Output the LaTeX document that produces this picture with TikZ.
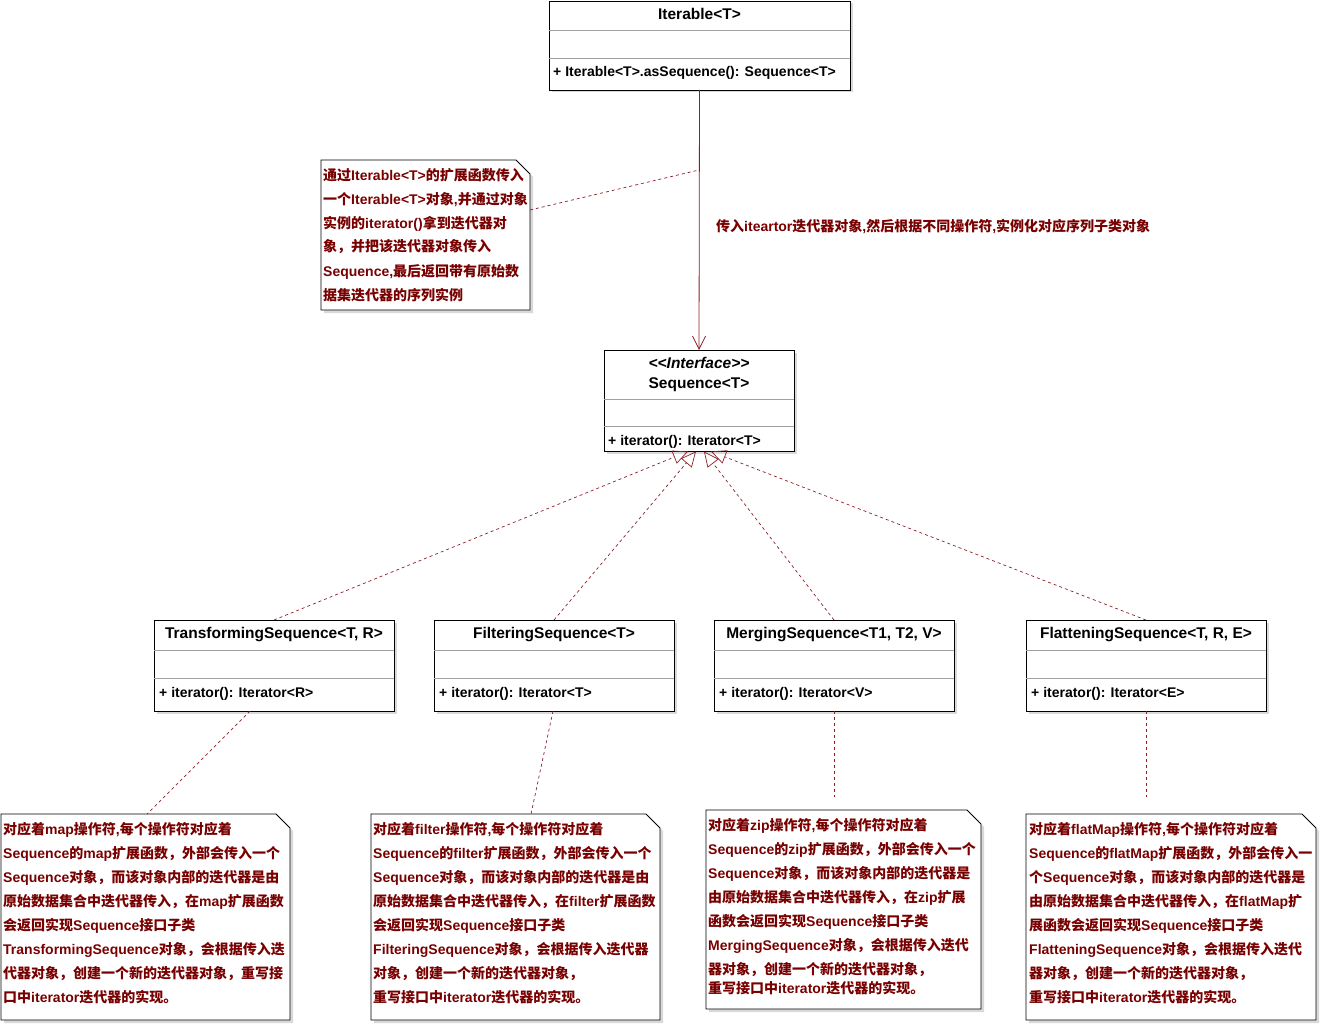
\documentclass[tikz,border=0pt]{standalone}
\usepackage{fontspec}
\setmainfont{Liberation Sans}
\newfontfamily\cjk{Noto Sans CJK SC}
\usetikzlibrary{arrows.meta,shadows}
\definecolor{txtc}{RGB}{120,0,0}
\definecolor{linec}{RGB}{140,30,40}
\definecolor{sepc}{RGB}{160,160,160}
\newcommand\lat[1]{{\rmfamily\bfseries #1}}
\newcommand\notebox[4]{%
  \fill[black,opacity=0.15] (#1+3,#2+3) -- (#3-14+3,#2+3) -- (#3+3,#2+14+3) -- (#3+3,#4+3) -- (#1+3,#4+3) -- cycle;
  \draw[noteb] (#1,#2) -- (#3-14,#2) -- (#3,#2+14) -- (#3,#4) -- (#1,#4) -- cycle;}
\begin{document}
\begin{tikzpicture}[x=1pt,y=-1pt,
  cls/.style={draw=black, line width=0.9pt, fill=white, anchor=north west, inner sep=0pt, outer sep=0pt,
    drop shadow={shadow xshift=2.5pt, shadow yshift=-2.5pt, opacity=0.3}},
  ttl/.style={anchor=base, inner sep=0pt, font=\fontsize{15.5}{18}\selectfont\bfseries},
  mth/.style={anchor=base west, inner sep=0pt, font=\fontsize{14}{16}\selectfont\bfseries},
  sepl/.style={draw=sepc, line width=0.6pt},
  assoc/.style={draw=linec, line width=0.8pt, -{Straight Barb[length=13pt,width=13pt]}},
  real/.style={draw=linec, line width=0.7pt, dash pattern=on 3pt off 3pt, -{Triangle[open,length=15pt,width=14pt]}},
  anchorline/.style={draw=linec, line width=0.7pt, dash pattern=on 3pt off 3pt},
  noteb/.style={draw=black, line width=0.9pt, fill=white},
  notetxt/.style={anchor=base west, inner sep=0pt, align=left, text=txtc, font=\cjk\bfseries\fontsize{14}{24}\selectfont}]
\useasboundingbox (0,0) rectangle (1323,1027);

% ---------- Iterable<T>
\node[cls, minimum width=301pt, minimum height=89pt] (iter) at (549,1) {};
\draw[sepl] (549,30) -- (850,30);
\draw[sepl] (549,58) -- (850,58);
\node[ttl] (iterT) at (699.5,19.5) {Iterable<T>};
\node[mth] (iterM) at (553,77) {+ Iterable<T>.asSequence(): Sequence<T>};

% ---------- Sequence<T>
\node[cls, minimum width=190pt, minimum height=101pt] (seq) at (604,350) {};
\draw[sepl] (604,399) -- (794,399);
\draw[sepl] (604,426) -- (794,426);
\node[ttl, font=\fontsize{15.5}{18}\selectfont\bfseries\itshape] (seqS) at (699,368.5) {<{}<Interface>{}>};
\node[ttl] (seqT) at (699,388.5) {Sequence<T>};
\node[mth] (seqM) at (608,445) {+ iterator(): Iterator<T>};

% ---------- subclasses
\node[cls, minimum width=240pt, minimum height=91pt] (trans) at (154,620) {};
\node[cls, minimum width=240pt, minimum height=91pt] (filt) at (434,620) {};
\node[cls, minimum width=240pt, minimum height=91pt] (merg) at (714,620) {};
\node[cls, minimum width=240pt, minimum height=91pt] (flat) at (1026,620) {};
\foreach \a/\b in {154/394,434/674,714/954,1026/1266}{
  \draw[sepl] (\a,650) -- (\b,650);
  \draw[sepl] (\a,678) -- (\b,678);
}
\node[ttl] (transT) at (274,638.5) {TransformingSequence<T, R>};
\node[ttl] (filtT) at (554,638.5) {FilteringSequence<T>};
\node[ttl] (mergT) at (834,638.5) {MergingSequence<T1, T2, V>};
\node[ttl] (flatT) at (1146,638.5) {FlatteningSequence<T, R, E>};
\node[mth] (transM) at (159,697) {+ iterator(): Iterator<R>};
\node[mth] (filtM) at (439,697) {+ iterator(): Iterator<T>};
\node[mth] (mergM) at (719,697) {+ iterator(): Iterator<V>};
\node[mth] (flatM) at (1031,697) {+ iterator(): Iterator<E>};

% ---------- notes (node base = baseline of last line)
\notebox{321}{160}{530}{310}
\node[notetxt] (nAt) at (323,300) {通过\lat{Iterable<T>}的扩展函数传入\\
一个\lat{Iterable<T>}对象\lat{,}并通过对象\\
实例的\lat{iterator()}拿到迭代器对\\
象，并把该迭代器对象传入\\
\lat{Sequence,}最后返回带有原始数\\
据集迭代器的序列实例};

\notebox{1}{814}{290}{1020}
\node[notetxt] (n1t) at (3,1002) {对应着\lat{map}操作符\lat{,}每个操作符对应着\\
\lat{Sequence}的\lat{map}扩展函数，外部会传入一个\\
\lat{Sequence}对象，而该对象内部的迭代器是由\\
原始数据集合中迭代器传入，在\lat{map}扩展函数\\
会返回实现\lat{Sequence}接口子类\\
\lat{TransformingSequence}对象，会根据传入迭\\
代器对象，创建一个新的迭代器对象，重写接\\
口中\lat{iterator}迭代器的实现。};

\notebox{371}{814}{660}{1020}
\node[notetxt] (n2t) at (373,1002) {对应着\lat{filter}操作符\lat{,}每个操作符对应着\\
\lat{Sequence}的\lat{filter}扩展函数，外部会传入一个\\
\lat{Sequence}对象，而该对象内部的迭代器是由\\
原始数据集合中迭代器传入，在\lat{filter}扩展函数\\
会返回实现\lat{Sequence}接口子类\\
\lat{FilteringSequence}对象，会根据传入迭代器\\
对象，创建一个新的迭代器对象，\\
重写接口中\lat{iterator}迭代器的实现。};

\notebox{706}{810}{981}{1009}
\node[notetxt] (n3t) at (708,993) {对应着\lat{zip}操作符\lat{,}每个操作符对应着\\
\lat{Sequence}的\lat{zip}扩展函数，外部会传入一个\\
\lat{Sequence}对象，而该对象内部的迭代器是\\
由原始数据集合中迭代器传入，在\lat{zip}扩展\\
函数会返回实现\lat{Sequence}接口子类\\
\lat{MergingSequence}对象，会根据传入迭代\\
器对象，创建一个新的迭代器对象，\\[-5pt]
重写接口中\lat{iterator}迭代器的实现。};

\notebox{1026}{814}{1316}{1020}
\node[notetxt] (n4t) at (1029,1002) {对应着\lat{flatMap}操作符\lat{,}每个操作符对应着\\
\lat{Sequence}的\lat{flatMap}扩展函数，外部会传入一\\
个\lat{Sequence}对象，而该对象内部的迭代器是\\
由原始数据集合中迭代器传入，在\lat{flatMap}扩\\
展函数会返回实现\lat{Sequence}接口子类\\
\lat{FlatteningSequence}对象，会根据传入迭代\\
器对象，创建一个新的迭代器对象，\\
重写接口中\lat{iterator}迭代器的实现。};

% ---------- label
\node[anchor=base west, inner sep=0pt, text=txtc, font=\cjk\bfseries\fontsize{14}{16}\selectfont] (lbl) at (716,232)
  {传入\lat{iteartor}迭代器对象\lat{,}然后根据不同操作符\lat{,}实例化对应序列子类对象};

% ---------- coordinates
\coordinate (amid) at (699,170);
\coordinate (nA) at (530,210);
\coordinate (s1) at (688,451.5);
\coordinate (s2) at (696,451.5);
\coordinate (s3) at (704,451.5);
\coordinate (s4) at (711,451.5);
\coordinate (t1) at (250,711);
\coordinate (n1) at (147,814);
\coordinate (f1) at (553,711);
\coordinate (n2) at (531,814);
\coordinate (m1) at (834,711);
\coordinate (m2) at (834,797);
\coordinate (l1) at (1146,711);
\coordinate (l2) at (1146,797);

% ---------- connectors
\draw[assoc] (iter.south) -- (seq.north);
\draw[anchorline] (nA) -- (amid);
\draw[real] (trans.north) -- (s1);
\draw[real] (filt.north) -- (s2);
\draw[real] (merg.north) -- (s3);
\draw[real] (flat.north) -- (s4);
\draw[anchorline] (t1) -- (n1);
\draw[anchorline] (f1) -- (n2);
\draw[anchorline] (m1) -- (m2);
\draw[anchorline] (l1) -- (l2);
\end{tikzpicture}
\end{document}
